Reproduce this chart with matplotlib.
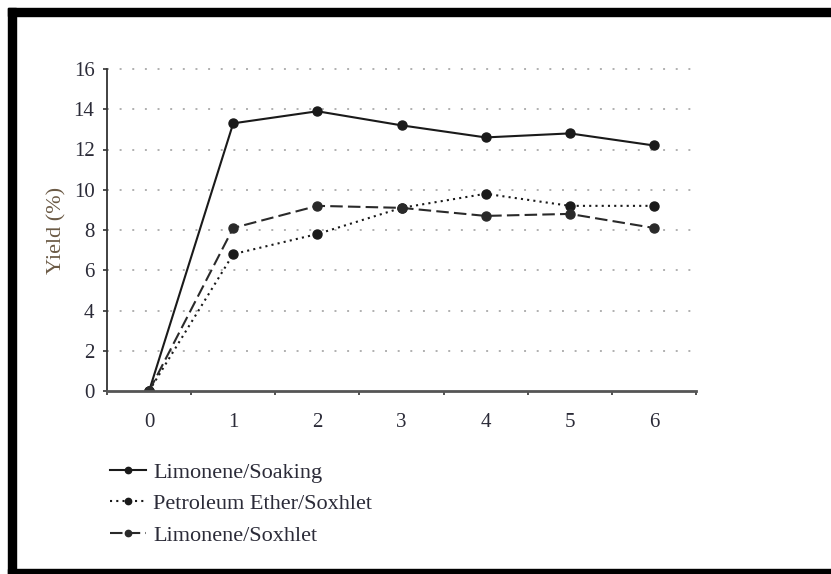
import matplotlib as mpl
import matplotlib.pyplot as plt
from matplotlib.patches import Rectangle

# data
x_vals = [0, 1, 2, 3, 4, 5, 6]
soaking = [0, 13.3, 13.9, 13.2, 12.6, 12.8, 12.2]
pe_soxhlet = [0, 6.8, 7.8, 9.1, 9.8, 9.2, 9.2]
lim_soxhlet = [0, 8.1, 9.2, 9.1, 8.7, 8.8, 8.1]
y_ticks = [0, 2, 4, 6, 8, 10, 12, 14, 16]

mpl.rcParams['font.family'] = ['Liberation Serif', 'DejaVu Serif']
text_col = '#2b2b38'

fig = plt.figure(figsize=(8.31, 5.74), dpi=100)
ax = fig.add_axes([107/831, 183/574, 589/831, 322/574])

ax.plot(x_vals, soaking, '-', color='#1a1a1a', lw=1.5, marker='o', ms=6.5,
        label='Limonene/Soaking')
ax.plot(x_vals, pe_soxhlet, color='#1a1a1a', lw=1.5, ls=(0, (1, 2)), marker='o', ms=6.5,
        label='Petroleum Ether/Soxhlet')
ax.plot(x_vals, lim_soxhlet, color='#2a2a2a', lw=1.5, ls=(0, (6, 2.5)), marker='o', ms=6.5,
        label='Limonene/Soxhlet')

ax.set_xlim(-0.5, 6.5)
ax.set_ylim(0, 16)
ax.set_yticks(y_ticks)
ax.set_xticks(x_vals)
ax.set_xticks([v - 0.5 for v in x_vals] + [6.5], minor=True)
ax.tick_params(axis='x', which='major', length=0, pad=16, labelsize=15, colors=text_col)
ax.tick_params(axis='x', which='minor', length=3, width=1.2, direction='out', color='#333333')
ax.tick_params(axis='y', length=3, width=1.2, direction='out', pad=6, labelsize=15,
               colors=text_col)
ax.tick_params(axis='y', color='#333333')

for yv in y_ticks[1:]:
    ax.plot([-0.5, 6.45], [yv, yv], color='#b0b0b0', lw=1.4, ls=(0, (1, 5.5)), zorder=0,
            clip_on=False)

for side in ['top', 'right']:
    ax.spines[side].set_visible(False)
ax.spines['left'].set_color('#333333')
ax.spines['bottom'].set_color('#555555')
ax.spines['left'].set_linewidth(1.3)
ax.spines['bottom'].set_linewidth(2)

ax.set_ylabel('Yield (%)', fontsize=16, color='#6b5a45', labelpad=5)

fig.legend(loc='upper left', bbox_to_anchor=(90/831, 1 - 442/574), frameon=False,
           handlelength=1.6, handletextpad=0.35, labelspacing=0.5, fontsize=16,
           markerscale=0.7, labelcolor=text_col)

# black frame around the figure (left, top, bottom)
fig.patches.append(Rectangle((8/831, 0), 8/831, 1 - 8/574, transform=fig.transFigure,
                             color='black', zorder=10))
fig.patches.append(Rectangle((8/831, 1 - 16/574), 1, 8/574, transform=fig.transFigure,
                             color='black', zorder=10))
fig.patches.append(Rectangle((8/831, 0), 1, 5/574, transform=fig.transFigure,
                             color='black', zorder=10))

fig.savefig('out.png', dpi=100)
